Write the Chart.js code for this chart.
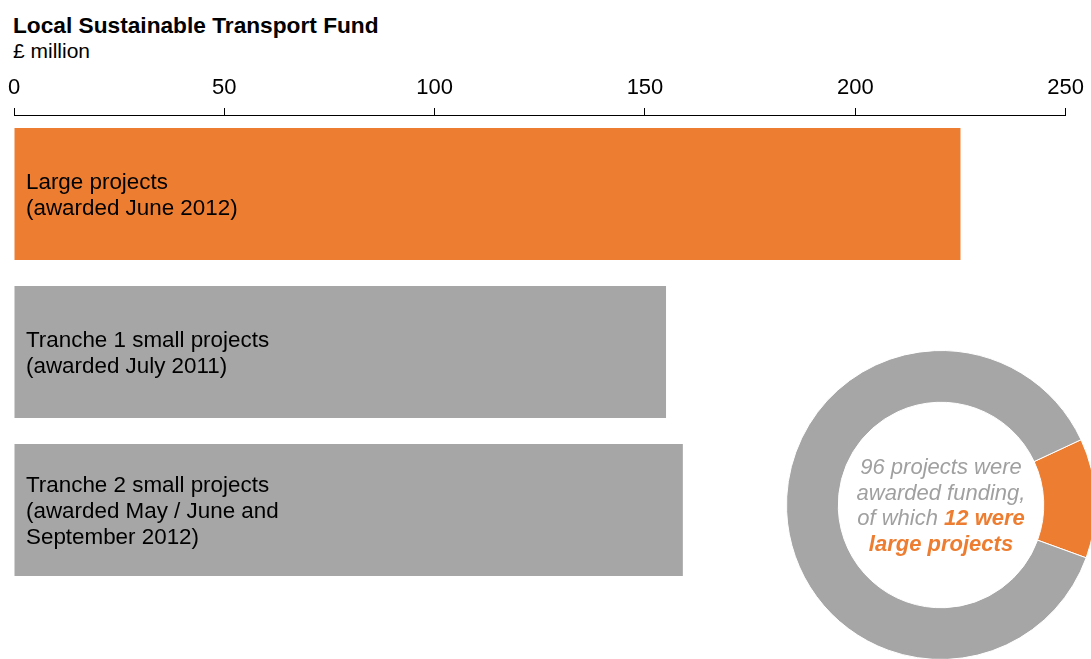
<!DOCTYPE html>
<html>
<head>
<meta charset="utf-8">
<title>Local Sustainable Transport Fund</title>
<script src="https://cdn.jsdelivr.net/npm/chart.js@4.4.0/dist/chart.umd.min.js"></script>
<style>
  html, body {
    margin: 0;
    padding: 0;
    width: 1091px;
    height: 659px;
    overflow: hidden;
    background: #fff;
    font-family: "Liberation Sans", Arial, sans-serif;
  }
  #bars { position: absolute; left: 0; top: 0; }
  #ring { position: absolute; left: 786px; top: 350px; }
  .heading {
    position: absolute;
    left: 13px;
    line-height: 26px;
    color: #000;
    white-space: nowrap;
  }
  #title { top: 12px; font-size: 22.7px; font-weight: bold; }
  #units { top: 38px; font-size: 21px; }
  #ring-note {
    position: absolute;
    left: 841px;
    top: 454px;
    width: 200px;
    text-align: center;
    font-size: 22px;
    line-height: 25.5px;
    font-style: italic;
    color: #A0A0A0;
    white-space: nowrap;
  }
  #ring-note b { color: #ED7D31; }
</style>
</head>
<body>
<div class="heading" id="title">Local Sustainable Transport Fund</div>
<div class="heading" id="units">£ million</div>
<canvas id="bars" width="1091" height="659"></canvas>
<canvas id="ring" width="310" height="310"></canvas>
<div id="ring-note"></div>

<script>
// funding by award round, £ million
const categories = ['Large projects', 'Tranche 1 small projects', 'Tranche 2 small projects'];
const barLabelLines = [
    ['Large projects', '(awarded June 2012)'],
    ['Tranche 1 small projects', '(awarded July 2011)'],
    ['Tranche 2 small projects', '(awarded May / June and', 'September 2012)']
];
const fundingMillions = [225, 155, 159];
const axisMin = 0;
const axisMax = 250;
const axisStep = 50;

// number of projects funded: large, small
const projectLabels = ['Large projects', 'Small projects'];
const projectCounts = [12, 84];

const ORANGE = '#ED7D31';
const GREY = '#A6A6A6';
const FONT = '"Liberation Sans", Arial, sans-serif';

// writes the two-or-three line caption inside each bar
const barLabelPlugin = {
    id: 'barLabels',
    afterDatasetsDraw(chart) {
        const { ctx, chartArea } = chart;
        const bars = chart.getDatasetMeta(0).data;
        ctx.save();
        ctx.font = '22.4px ' + FONT;
        ctx.fillStyle = '#000';
        ctx.textBaseline = 'alphabetic';
        bars.forEach((bar, i) => {
            const lines = barLabelLines[i];
            lines.forEach((line, j) => {
                const y = bar.y + (j - (lines.length - 1) / 2) * 26 + 8;
                ctx.fillText(line, chartArea.left + 12, y);
            });
        });
        ctx.restore();
    }
};

new Chart(document.getElementById('bars'), {
    type: 'bar',
    data: {
        labels: categories,
        datasets: [{
            data: fundingMillions,
            backgroundColor: fundingMillions.map((v, i) => i === 0 ? ORANGE : GREY),
            borderWidth: 0,
            categoryPercentage: 1,
            barPercentage: 0.835
        }]
    },
    options: {
        indexAxis: 'y',
        responsive: false,
        animation: false,
        layout: { padding: { left: 14, right: 23, top: 0, bottom: 70 } },
        plugins: {
            legend: { display: false },
            tooltip: { enabled: false }
        },
        scales: {
            x: {
                position: 'top',
                min: axisMin,
                max: axisMax,
                ticks: {
                    stepSize: axisStep,
                    color: '#000',
                    padding: 7,
                    maxRotation: 0,
                    font: { family: FONT, size: 22 }
                },
                grid: {
                    drawOnChartArea: false,
                    drawTicks: true,
                    tickLength: 7,
                    color: '#000',
                    tickColor: '#000'
                },
                border: { display: true, color: '#000', width: 1 },
                afterFit(scale) { scale.height = 115; }
            },
            y: { display: false }
        }
    },
    plugins: [barLabelPlugin]
});

new Chart(document.getElementById('ring'), {
    type: 'doughnut',
    data: {
        labels: projectLabels,
        datasets: [{
            data: projectCounts,
            backgroundColor: [ORANGE, GREY],
            borderColor: '#fff',
            borderWidth: 1
        }]
    },
    options: {
        responsive: false,
        animation: false,
        rotation: 65,
        cutout: '66.5%',
        layout: { padding: 0 },
        plugins: {
            legend: { display: false },
            tooltip: { enabled: false }
        }
    }
});

const totalProjects = projectCounts.reduce((a, b) => a + b, 0);
document.getElementById('ring-note').innerHTML =
    totalProjects + ' projects were<br>awarded funding,<br>of which <b>' +
    projectCounts[0] + ' were<br>large projects</b>';
</script>
</body>
</html>
